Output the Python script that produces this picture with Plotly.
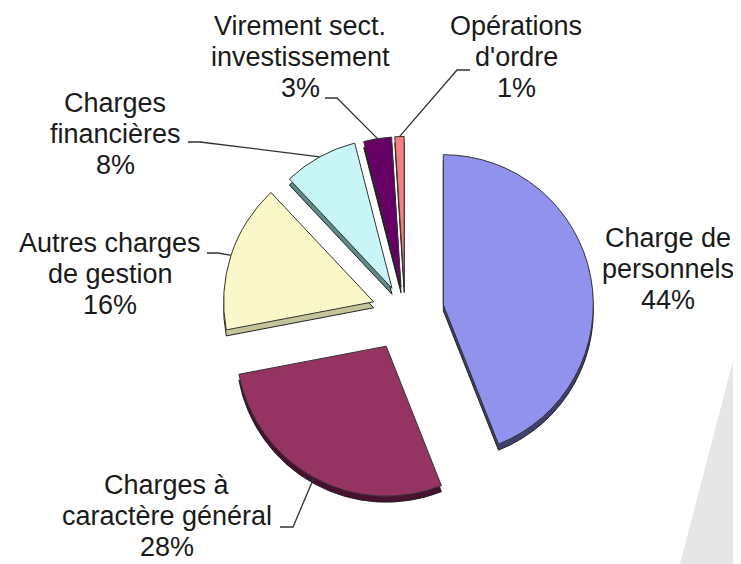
import math
import plotly.graph_objects as go

# ---- data ----
categories = [
    "Charge de personnels",
    "Charges à caractère général",
    "Autres charges de gestion",
    "Charges financières",
    "Virement sect. investissement",
    "Opérations d'ordre",
]
label_lines = [
    ["Charge de", "personnels"],
    ["Charges à", "caractère général"],
    ["Autres charges", "de gestion"],
    ["Charges", "financières"],
    ["Virement sect.", "investissement"],
    ["Opérations", "d'ordre"],
]
values = [44, 28, 16, 8, 3, 1]

# ---- styles / layout ----
colors = ["#9191EE", "#953463", "#FAF8C8", "#C8F6F6", "#660066", "#F48080"]
side_colors = ["#404070", "#4A1030", "#C4C49A", "#5E8A8A", "#300030", "#A05050"]
pulls = [0.26, 0.26, 0.22, 0.18, 0.17, 0.17]

OFF = 8                 # page body margin of the browser
W, H = 741 - OFF, 564 - OFF
target_c = (405, 312)   # desired pie centre on screen (px)
target_r = 150          # desired pie radius (px)
depth_px = 6
line_gap = 31

# label centre x and first-line centre y (screen px); leader start / elbow (screen px)
label_pos = [(668, 238), (167, 485), (110, 243), (115, 103), (300, 26), (516, 26)]
leader_start = [None, (280, 527), (207, 253), (188, 142), (325, 98), (470, 70)]
leader_elbow = [None, (293, 527), (218, 253), (200, 142), (337, 98), (457, 70)]

font = dict(family="Liberation Sans, Arial, sans-serif", size=27, color="#1a1a1a")

# pie domain so that plotly's own layout gives the desired centre / radius
max_pull = max(pulls)
box = 2 * (1 + max_pull) * target_r
cxf, cyf = target_c[0] - OFF, target_c[1] - OFF
dom_x = [cxf / W - 0.265, cxf / W + 0.265]
y0 = 1 - (cyf + box / 2) / H
dom_y = [y0, y0 + box / H]

box_w = W * (dom_x[1] - dom_x[0])
box_h = H * (dom_y[1] - dom_y[0])
R = min(box_w, box_h) / (2 + 2 * max_pull)
CX = W * (dom_x[0] + dom_x[1]) / 2
CY = H * (1 - dom_y[0]) - box_h / 2

def scr2paper(x, y):
    return (x - OFF) / W, 1 - (y - OFF) / H

def fig2paper(x, y):
    return x / W, 1 - y / H

fig = go.Figure()

# side wall (3D thickness)
fig.add_trace(go.Pie(
    labels=categories, values=values, sort=False, direction="clockwise", rotation=0,
    pull=pulls, textinfo="none", hoverinfo="skip", showlegend=False,
    marker=dict(colors=side_colors, line=dict(color="#222222", width=1)),
    domain=dict(x=dom_x, y=[dom_y[0] - depth_px / H, dom_y[1] - depth_px / H]),
))
# top face
fig.add_trace(go.Pie(
    labels=categories, values=values, sort=False, direction="clockwise", rotation=0,
    pull=pulls, textinfo="none", showlegend=False,
    marker=dict(colors=colors, line=dict(color="#333333", width=1)),
    domain=dict(x=dom_x, y=dom_y),
))

g1 = scr2paper(741, 330)
g2 = scr2paper(680, 564)
annotations = []
shapes = [dict(
    type="path", xref="paper", yref="paper",
    path=f"M 1 {g1[1]} L {g2[0]} 0 L 1 0 Z",
    fillcolor="#E6E6E6", line=dict(width=0), layer="below",
)]

total = sum(values)
cum = 0
for i, v in enumerate(values):
    mid = (cum + v / 2) / total * 2 * math.pi
    cum += v
    dx, dy = math.sin(mid), -math.cos(mid)
    ax_px = CX + (1 + pulls[i]) * R * dx
    ay_px = CY + (1 + pulls[i]) * R * dy
    pct = round(v / total * 100)
    lines = label_lines[i] + [f"{pct}%"]
    lx, ly0 = label_pos[i]
    for k, t in enumerate(lines):
        px, py = scr2paper(lx, ly0 + k * line_gap)
        annotations.append(dict(
            x=px, y=py, xref="paper", yref="paper", showarrow=False,
            text=t, xanchor="center", yanchor="middle", font=font,
        ))
    if leader_start[i] is not None:
        p1 = scr2paper(*leader_start[i])
        p2 = scr2paper(*leader_elbow[i])
        p3 = fig2paper(ax_px, ay_px)
        shapes.append(dict(
            type="path", xref="paper", yref="paper",
            path=f"M {p1[0]} {p1[1]} L {p2[0]} {p2[1]} L {p3[0]} {p3[1]}",
            line=dict(color="#333333", width=1.3),
        ))

fig.update_layout(
    width=W, height=H,
    margin=dict(l=0, r=0, t=0, b=0, autoexpand=False),
    paper_bgcolor="white", plot_bgcolor="white",
    annotations=annotations, shapes=shapes,
)

fig.write_html("out.html")
